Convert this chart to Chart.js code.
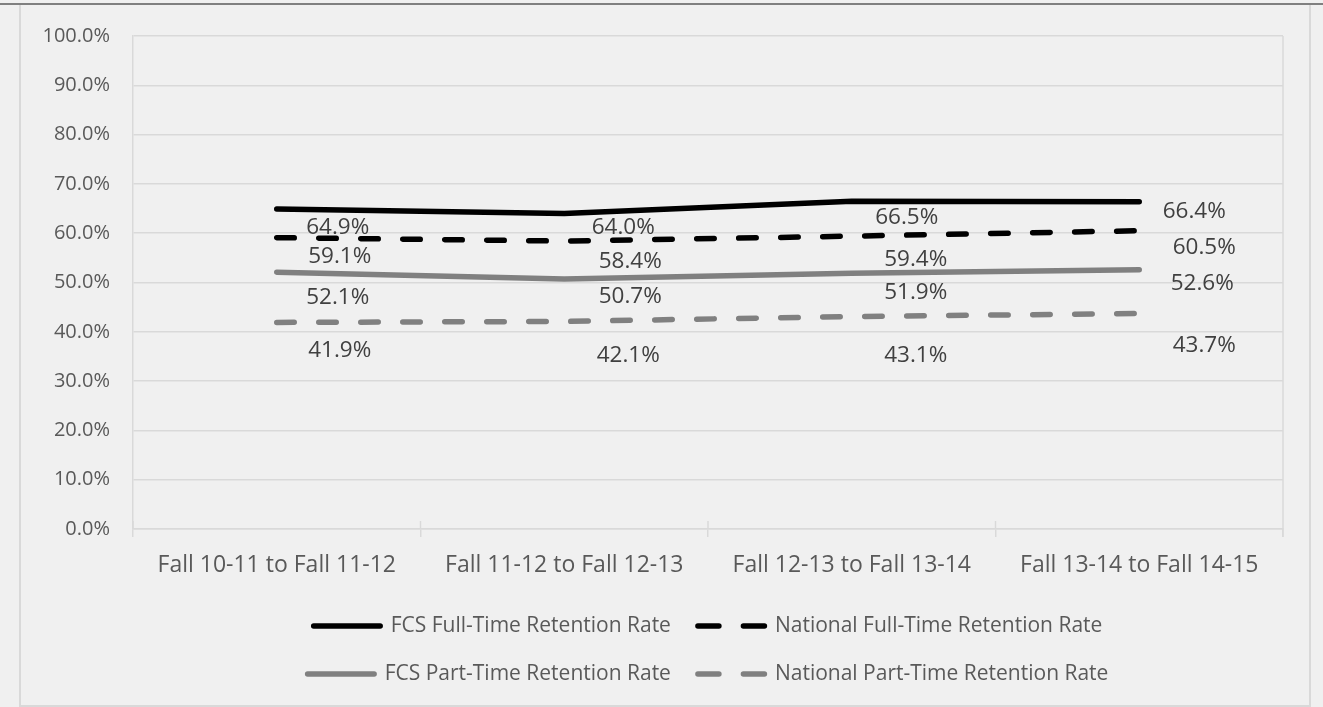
<!DOCTYPE html>
<html>
<head>
<meta charset="utf-8">
<script src="https://cdn.jsdelivr.net/npm/chart.js@4.4.1/dist/chart.umd.min.js"></script>
<style>
  html, body { margin: 0; padding: 0; background: #f0f0f0; width: 1323px; height: 707px; overflow: hidden; }
  #topline { position: absolute; left: 0; top: 3px; width: 1323px; height: 2px; background: #808080; }
  #frame { position: absolute; left: 19px; top: 5px; width: 1288px; height: 700px;
           border-left: 2px solid #d9d9d9; border-right: 2px solid #d9d9d9; border-bottom: 2px solid #d9d9d9; }
  canvas { display: block; }
</style>
</head>
<body>
<div id="topline"></div>
<div id="frame"><canvas id="c" width="1288" height="700"></canvas></div>
<script>
// ---- data ----
const categories = ['Fall 10-11 to Fall 11-12', 'Fall 11-12 to Fall 12-13', 'Fall 12-13 to Fall 13-14', 'Fall 13-14 to Fall 14-15'];
const seriesNames = ['FCS Full-Time Retention Rate', 'National Full-Time Retention Rate', 'FCS Part-Time Retention Rate', 'National Part-Time Retention Rate'];
const fcsFullTime = [64.9, 64.0, 66.5, 66.4];
const nationalFullTime = [59.1, 58.4, 59.4, 60.5];
const fcsPartTime = [52.1, 50.7, 51.9, 52.6];
const nationalPartTime = [41.9, 42.1, 43.1, 43.7];
const yTickValues = [0, 10, 20, 30, 40, 50, 60, 70, 80, 90, 100];

// ---- label placement (layout only) ----
const labelNudge = [
  [[61, 17], [59, 12], [55, 15], [55, 8]],
  [[63, 17], [66, 19], [64, 22], [65, 15]],
  [[61, 24], [66, 16], [64, 18], [63, 12]],
  [[63, 27], [64, 33], [64, 37], [65, 30]]
];

const FONT = '"Open Sans", "Noto Sans", sans-serif';
Chart.defaults.font.family = FONT;

const DASH = [17.5, 24.5];
const LEGEND_DASH = [21, 24.5];
const LW = 5.5;

function ds(label, data, color, dashed, order) {
  return {
    label, data, order,
    borderColor: color, backgroundColor: color,
    borderWidth: LW, borderDash: dashed ? DASH : [],
    borderCapStyle: 'round', borderJoinStyle: 'round',
    pointRadius: 0, pointHoverRadius: 0, tension: 0, fill: false
  };
}

const extraLines = {
  id: 'extraLines',
  beforeDatasetsDraw(chart) {
    const ca = chart.chartArea, ctx = chart.ctx;
    const n = chart.data.labels.length;
    const w = (ca.right - ca.left) / n;
    ctx.save();
    ctx.strokeStyle = '#d9d9d9';
    ctx.lineWidth = 1.5;
    ctx.beginPath();
    ctx.moveTo(ca.right, ca.top);
    ctx.lineTo(ca.right, ca.bottom + 8);
    for (let i = 0; i <= n; i++) {
      const x = ca.left + i * w;
      ctx.moveTo(x, ca.bottom - 8);
      ctx.lineTo(x, ca.bottom);
    }
    ctx.stroke();
    ctx.restore();
  }
};

const dataLabels = {
  id: 'dataLabels',
  afterDatasetDraw(chart, args) {
    const ctx = chart.ctx;
    const i = args.index;
    const meta = args.meta;
    const size = 22.5;
    ctx.save();
    ctx.font = size + 'px ' + FONT;
    ctx.fillStyle = '#404040';
    ctx.textAlign = 'center';
    ctx.textBaseline = 'alphabetic';
    meta.data.forEach((pt, j) => {
      const v = chart.data.datasets[i].data[j];
      const [dx, dy] = labelNudge[i][j];
      ctx.fillText(v.toFixed(1) + '%', pt.x + dx, pt.y + dy + 0.357 * size);
    });
    ctx.restore();
  }
};

new Chart(document.getElementById('c'), {
  type: 'line',
  data: {
    labels: categories,
    datasets: [
      ds(seriesNames[0], fcsFullTime, '#000000', false, 3),
      ds(seriesNames[1], nationalFullTime, '#000000', true, 2),
      ds(seriesNames[2], fcsPartTime, '#808080', false, 1),
      ds(seriesNames[3], nationalPartTime, '#808080', true, 0)
    ]
  },
  options: {
    responsive: false,
    devicePixelRatio: 1,
    animation: false,
    events: [],
    layout: { padding: { left: 0, right: 26, top: 31, bottom: 10.5 } },
    scales: {
      x: {
        type: 'category',
        offset: true,
        grid: { display: true, drawOnChartArea: false, drawTicks: true, tickLength: 8, offset: true, color: '#d9d9d9', lineWidth: 1.5 },
        border: { display: true, color: '#d9d9d9', width: 1.5 },
        ticks: { color: '#595959', font: { size: 23, family: FONT }, padding: 15, maxRotation: 0, autoSkip: false },
        afterFit(scale) { scale.height = 59.5; }
      },
      y: {
        min: 0, max: 100,
        afterBuildTicks(scale) { scale.ticks = yTickValues.map(v => ({ value: v })); },
        grid: { color: '#d9d9d9', lineWidth: 1.5, drawTicks: false },
        border: { display: true, color: '#d9d9d9', width: 1.5 },
        ticks: { color: '#595959', font: { size: 20, family: FONT }, padding: 23,
                 callback: v => Number(v).toFixed(1) + '%' },
        afterFit(scale) { scale.width = 112; scale.paddingTop = 12; scale.paddingBottom = 12; }
      }
    },
    plugins: {
      tooltip: { enabled: false },
      title: { display: false },
      legend: {
        display: true,
        position: 'bottom',
        fullSize: false,
        labels: {
          usePointStyle: true,
          pointStyle: 'line',
          pointStyleWidth: 66.5,
          color: '#595959',
          font: { size: 21, family: FONT },
          padding: 27,
          sort: (a, b) => a.datasetIndex - b.datasetIndex,
          generateLabels(chart) {
            const items = Chart.defaults.plugins.legend.labels.generateLabels(chart);
            items.forEach(it => {
              const d = chart.data.datasets[it.datasetIndex];
              it.lineCap = 'round';
              it.lineJoin = 'round';
              it.lineWidth = LW;
              it.strokeStyle = d.borderColor;
              it.lineDash = d.borderDash.length ? LEGEND_DASH : [];
              it.lineDashOffset = 0;
            });
            return items;
          }
        }
      }
    }
  },
  plugins: [extraLines, dataLabels]
});
</script>
</body>
</html>
